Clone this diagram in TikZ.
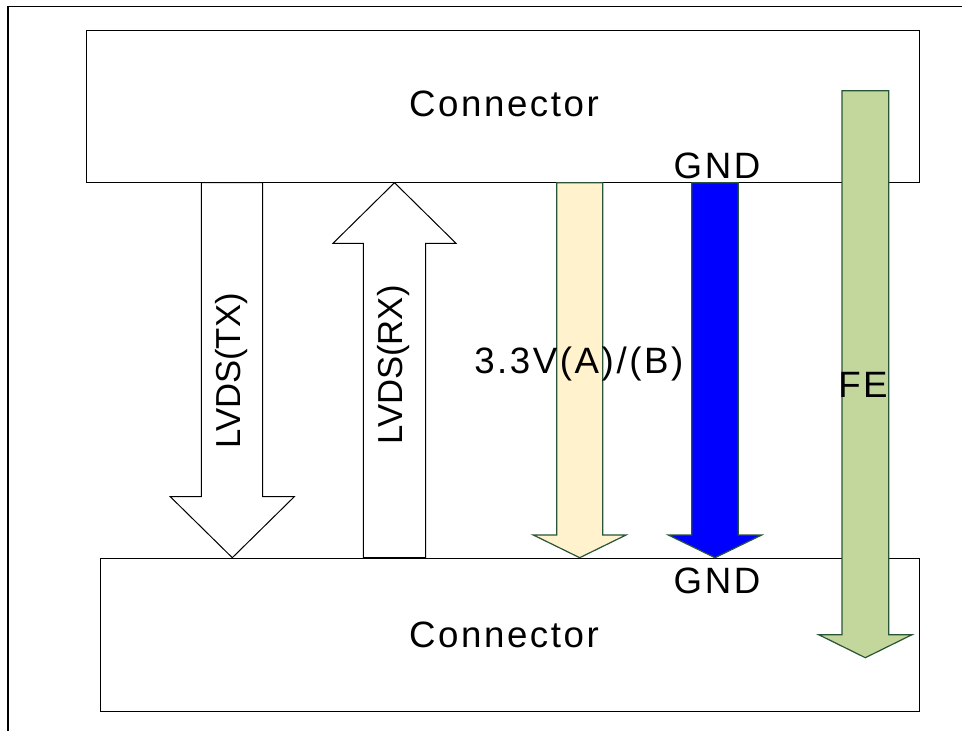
\documentclass[tikz,border=0pt]{standalone}
\usepackage{fontspec}
\setmainfont{Liberation Sans}
\newfontfamily\spacedfont[LetterSpace=7]{Liberation Sans}
\definecolor{creamfill}{RGB}{255,242,204}
\definecolor{olivefill}{RGB}{195,214,155}
\definecolor{gndblue}{RGB}{0,0,255}
\definecolor{darkedge}{RGB}{40,85,55}
\tikzset{
  frameline/.style={draw=black, line width=0.9pt},
  boxshape/.style={draw=black, line width=0.9pt, fill=white, inner sep=0pt},
  whitearrow/.style={draw=black, line width=0.75pt, fill=white, line join=miter},
  colarrow/.style={draw=darkedge, line width=0.9pt, line join=miter},
  lbl/.style={font=\spacedfont\fontsize{27.5}{33}\selectfont, inner sep=0pt, text=black},
  rotlbl/.style={font=\fontsize{26}{31}\selectfont, inner sep=0pt, text=black, rotate=90}
}
\begin{document}
\begin{tikzpicture}[x=0.75pt,y=-0.75pt]
\useasboundingbox (0,0) rectangle (962,731);
% outer frame (top and left edges)
\draw[frameline] (962,6.5) -- (8,6.5) -- (8,731);
% connector boxes
\node[boxshape, anchor=north west, minimum width=624.75pt, minimum height=114pt] (topconn) at (86,30) {};
\node[boxshape, anchor=north west, minimum width=614.25pt, minimum height=114.75pt] (botconn) at (100,558) {};
% LVDS(TX) down arrow
\draw[whitearrow] (201.3,182.7) -- (262.7,182.7) -- (262.7,496.7) -- (294.3,496.7) -- (232.3,557.7) -- (170.3,496.7) -- (201.3,496.7) -- cycle;
% LVDS(RX) up arrow
\draw[whitearrow] (363.3,557.7) -- (425.7,557.7) -- (425.7,243.3) -- (456,243.3) -- (394.5,182.7) -- (333,243.3) -- (363.3,243.3) -- cycle;
% 3.3V arrow
\draw[colarrow, fill=creamfill] (556.7,182.7) -- (602.7,182.7) -- (602.7,535) -- (626,535) -- (579.7,557.7) -- (533.3,535) -- (556.7,535) -- cycle;
% GND arrow
\draw[colarrow, fill=gndblue] (691.7,182.7) -- (738.3,182.7) -- (738.3,535) -- (761.7,535) -- (715,557.7) -- (668.3,535) -- (691.7,535) -- cycle;
% FE arrow
\draw[colarrow, fill=olivefill] (842,90.7) -- (888.7,90.7) -- (888.7,634.7) -- (912,634.7) -- (865.3,657.7) -- (818.7,634.7) -- (842,634.7) -- cycle;
% labels
\node[lbl, anchor=base] (toptext) at (504,117) {Connector};
\node[lbl, anchor=base] (bottext) at (504,647) {Connector};
\node[lbl, anchor=base] (gndtop) at (717,178) {GND};
\node[lbl, anchor=base] (gndbot) at (717,593) {GND};
\node[lbl, anchor=base west] (vtext) at (474,373) {3.3V(A)/(B)};
\node[lbl, anchor=base west] (fetext) at (838,397) {FE};
\node[rotlbl] (txtext) at (232,371) {LVDS(TX)};
\node[rotlbl] (rxtext) at (394,365) {LVDS(RX)};
\end{tikzpicture}
\end{document}
